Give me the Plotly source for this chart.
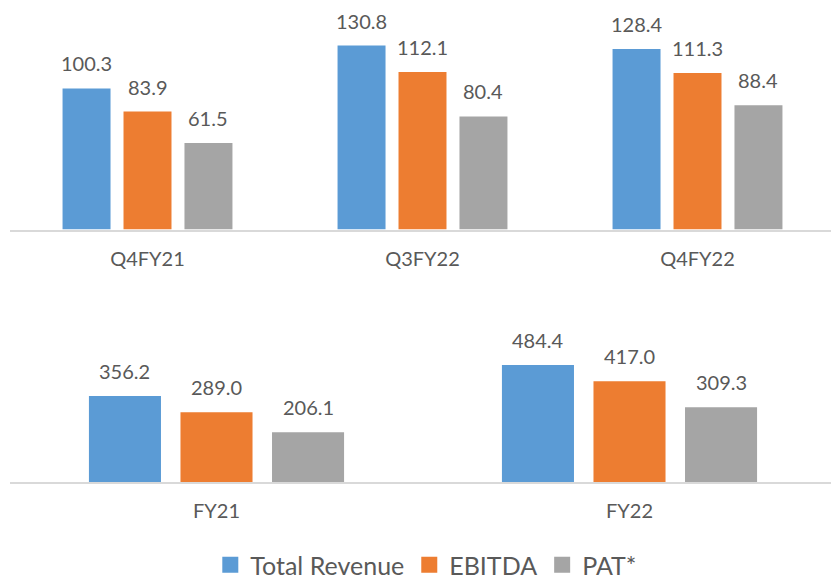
import plotly.graph_objects as go

# Quarterly figures
quarters = ["Q4FY21", "Q3FY22", "Q4FY22"]
q_revenue = [100.3, 130.8, 128.4]
q_ebitda = [83.9, 112.1, 111.3]
q_pat = [61.5, 80.4, 88.4]

# Annual figures
years = ["FY21", "FY22"]
y_revenue = [356.2, 484.4]
y_ebitda = [289.0, 417.0]
y_pat = [206.1, 309.3]

series_names = ["Total Revenue", "EBITDA", "PAT*"]
colors = ["#5B9BD5", "#ED7D31", "#A5A5A5"]
text_color = "#595959"
font_family = "Lato, Carlito, 'Open Sans', sans-serif"

W, H = 831, 579
BARGAP = 0.335
BARGROUPGAP = 0.213
slot = (1 - BARGAP) / 3  # width of one series slot, in category units

fig = go.Figure()

panels = [
    ("x", "y", quarters, [q_revenue, q_ebitda, q_pat]),
    ("x2", "y2", years, [y_revenue, y_ebitda, y_pat]),
]

annotations = []
for xa, ya, cats, series in panels:
    for k, (name, vals, col) in enumerate(zip(series_names, series, colors)):
        fig.add_trace(go.Bar(
            x=cats, y=vals, name=name, marker=dict(color=col, line=dict(width=0)),
            xaxis=xa, yaxis=ya, showlegend=False, hoverinfo="x+y+name",
        ))
        for i, v in enumerate(vals):
            annotations.append(dict(
                x=i + (k - 1) * slot, y=v, xref=xa, yref=ya,
                text=f"{v:.1f}", showarrow=False,
                xanchor="center", yanchor="middle", yshift=25,
                font=dict(family=font_family, size=20, color=text_color),
            ))

# Legend entries with larger square swatches
for name, col in zip(series_names, colors):
    fig.add_trace(go.Scatter(
        x=[None], y=[None], mode="markers", name=name,
        marker=dict(symbol="square", size=16, color=col),
        xaxis="x", yaxis="y", showlegend=True,
    ))

left = 10 / W
top_axis_px, top_top_px, top_scale = 229.5, 20, 1.406
bot_axis_px, bot_top_px, bot_scale = 482, 340, 0.2414

axis_common = dict(
    type="category", showline=True, linecolor="#D9D9D9", linewidth=2,
    ticks="", showgrid=False, zeroline=False, fixedrange=True, automargin=False,
    tickfont=dict(family=font_family, size=20, color=text_color),
    ticklabelstandoff=10,
)
yaxis_common = dict(visible=False, showgrid=False, zeroline=False, fixedrange=True)

fig.update_layout(
    width=W, height=H,
    margin=dict(l=0, r=0, t=0, b=0, autoexpand=False),
    paper_bgcolor="white", plot_bgcolor="white",
    barmode="group", bargap=BARGAP, bargroupgap=BARGROUPGAP,
    font=dict(family=font_family, color=text_color),
    xaxis=dict(axis_common, domain=[left, 1], anchor="y",
               range=[-0.5, -0.5 + (W - 10) / 275]),
    yaxis=dict(yaxis_common, anchor="x",
               domain=[1 - top_axis_px / H, 1 - top_top_px / H],
               range=[0, (top_axis_px - top_top_px) / top_scale]),
    xaxis2=dict(axis_common, domain=[left, 1], anchor="y2",
                range=[-0.5, -0.5 + (W - 10) / 413]),
    yaxis2=dict(yaxis_common, anchor="x2",
                domain=[1 - bot_axis_px / H, 1 - bot_top_px / H],
                range=[0, (bot_axis_px - bot_top_px) / bot_scale]),
    legend=dict(
        orientation="h", x=0.513, xanchor="center", y=-9 / H, yanchor="bottom",
        font=dict(family=font_family, size=25, color=text_color),
        bgcolor="rgba(0,0,0,0)", itemclick=False, itemdoubleclick=False,
    ),
    annotations=annotations,
)

fig.write_html("out.html")
